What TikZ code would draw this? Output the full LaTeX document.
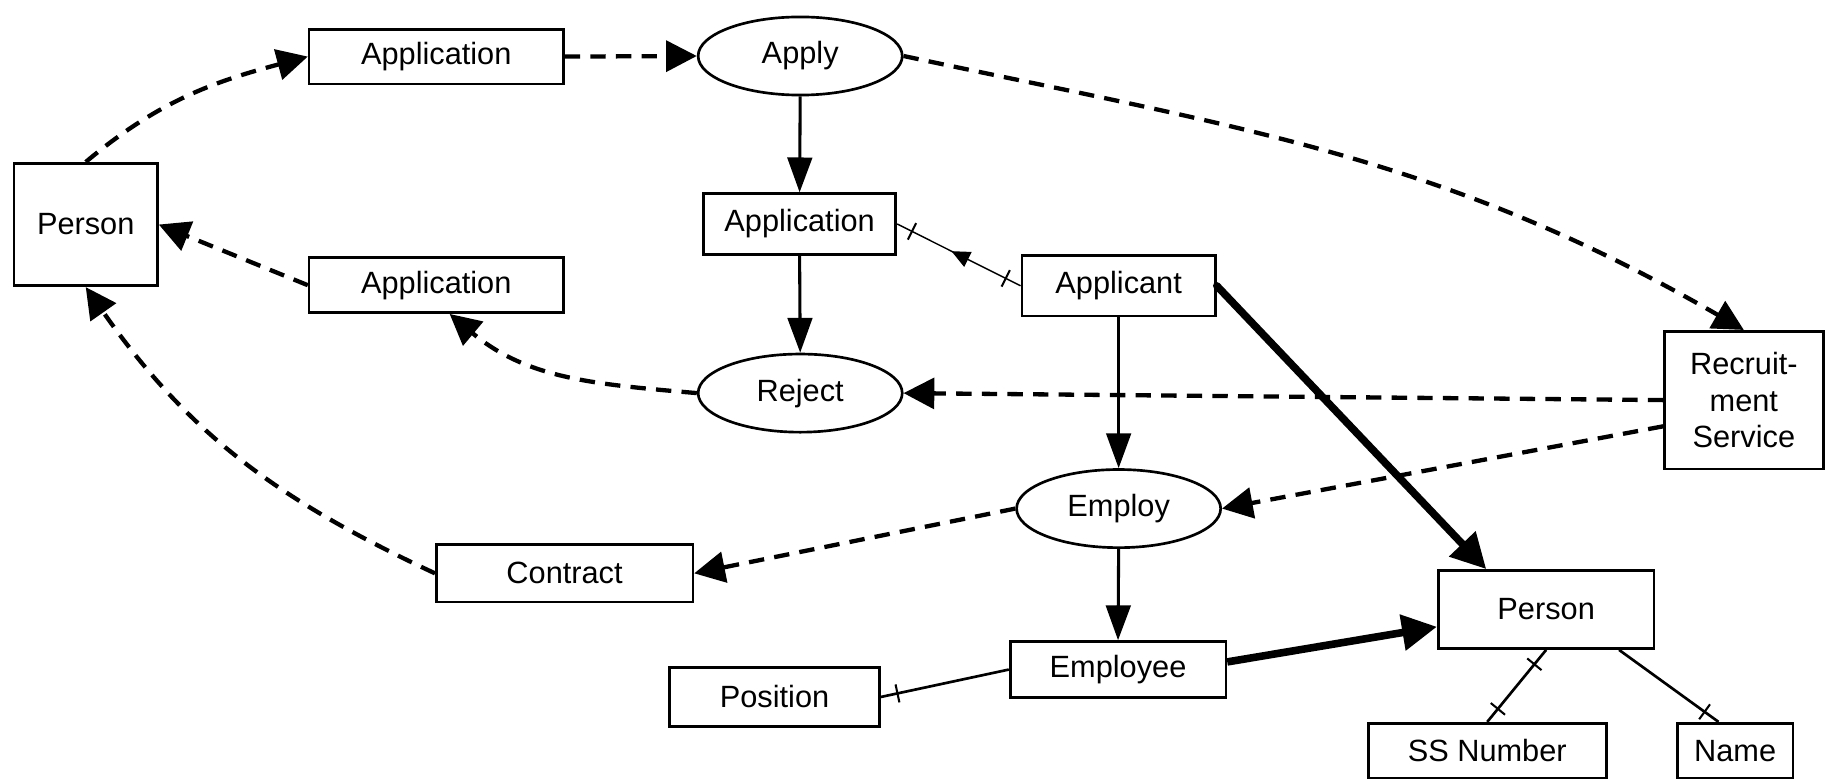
\documentclass[tikz,border=0pt]{standalone}
\usepackage{fontspec}
\setmainfont{Liberation Sans}
\usepackage{tikz}
\usetikzlibrary{shapes.geometric,arrows.meta,decorations.markings}

\begin{document}
\begin{tikzpicture}%
    [x={(0.02cm,0cm)},
     y={(0cm,-0.02cm)},
     font=\fontsize{15}{18}\selectfont,
     entity/.style={draw, line width=1.3pt, inner sep=0pt, align=center},
     event/.style={draw, ellipse, line width=1.3pt, inner sep=0pt,
                   minimum width=3.5cm, minimum height=1.34cm},
     flow/.style={line width=2.1pt, dash pattern=on 7.5pt off 5pt,
                  -{Triangle[length=15pt,width=15pt]}},
     trans/.style={line width=1.5pt, -{Triangle[length=17pt,width=12pt]}},
     heavy/.style={line width=3.7pt, -{Triangle[length=17pt,width=17pt]}},
     link/.style={line width=1.3pt},
     cardmark/.style={postaction={decorate, decoration={markings,
                      mark=at position #1 with {\draw[line width=1pt] (0,-4.5pt) -- (0,4.5pt);}}}},
     midarrow/.style={postaction={decorate, decoration={markings,
                      mark=at position #1 with {\arrow{Triangle[length=9pt,width=8pt]}}}}}]
    \useasboundingbox (0,0) rectangle (1568,667);
    %% Entities and events
    \node[entity, minimum width=2.46cm, minimum height=2.1cm] (person) at (73.5,192.5) {Person};
    \node[entity, minimum width=4.36cm, minimum height=0.94cm] (appout) at (374,48.5) {Application};
    \node[event] (apply) at (686,48) {Apply};
    \node[entity, minimum width=3.3cm, minimum height=1.04cm] (appl) at (685.5,192) {Application};
    \node[entity, minimum width=4.36cm, minimum height=0.94cm] (appback) at (374,244.5) {Application};
    \node[entity, minimum width=3.32cm, minimum height=1.04cm] (applicant) at (959,245) {Applicant};
    \node[event] (reject) at (686,337) {Reject};
    \node[entity, minimum width=2.72cm, minimum height=2.36cm] (recruit) at (1495,343) {Recruit-\\ment\\Service};
    \node[event] (employ) at (959,436) {Employ};
    \node[entity, minimum width=4.4cm, minimum height=0.98cm] (contract) at (484,491.5) {Contract};
    \node[entity, minimum width=3.7cm, minimum height=1.34cm] (person2) at (1325.5,522.5) {Person};
    \node[entity, minimum width=3.7cm, minimum height=0.96cm] (employee) at (958.5,574) {Employee};
    \node[entity, minimum width=3.6cm, minimum height=1.02cm] (position) at (664,597.5) {Position};
    \node[entity, minimum width=4.08cm, minimum height=0.94cm] (ssn) at (1275,643.5) {SS Number};
    \node[entity, minimum width=1.98cm, minimum height=0.94cm] (name) at (1487.5,643.5) {Name};
    %%
    %% Message flows
    %%
    \draw[flow] (person.north) to[out=40,in=195] (appout.west);
    \draw[flow] (appout.east) -- (apply.west);
    \draw[flow] (apply.east) to[out=-12,in=150] (recruit.north);
    \draw[flow] (recruit.west) -- (reject.east);
    \draw[flow] (recruit.198) -- (employ.east);
    \draw[flow] (reject.west) to[out=175,in=-40] (appback.-65);
    \draw[flow] (appback.west) -- (person.east);
    \draw[flow] (employ.west) -- (contract.east);
    \draw[flow] (contract.west) to[out=155,in=-55] (person.south);
    %% Transitions
    \draw[trans] (apply.south) -- (appl.north);
    \draw[trans] (appl.south) -- (reject.north);
    \draw[trans] (applicant.south) -- (employ.north);
    \draw[trans] (employ.south) -- (employee.north);
    %% Specialisation
    \draw[heavy, line cap=round] (applicant.east) -- (person2.146);
    \draw[heavy] (employee.4) -- (person2.189);
    %% Attributes
    \draw[line width=0.7pt, cardmark=0.12, cardmark=0.88, midarrow=0.56] (applicant.west) -- (appl.east);
    \draw[link, cardmark=0.13] (position.east) -- (employee.west);
    \draw[link, cardmark=0.2, cardmark=0.82] (person2.south) -- (ssn.north);
    \draw[link, cardmark=0.86] (person2.-29) -- (name.120);
\end{tikzpicture}
\end{document}
